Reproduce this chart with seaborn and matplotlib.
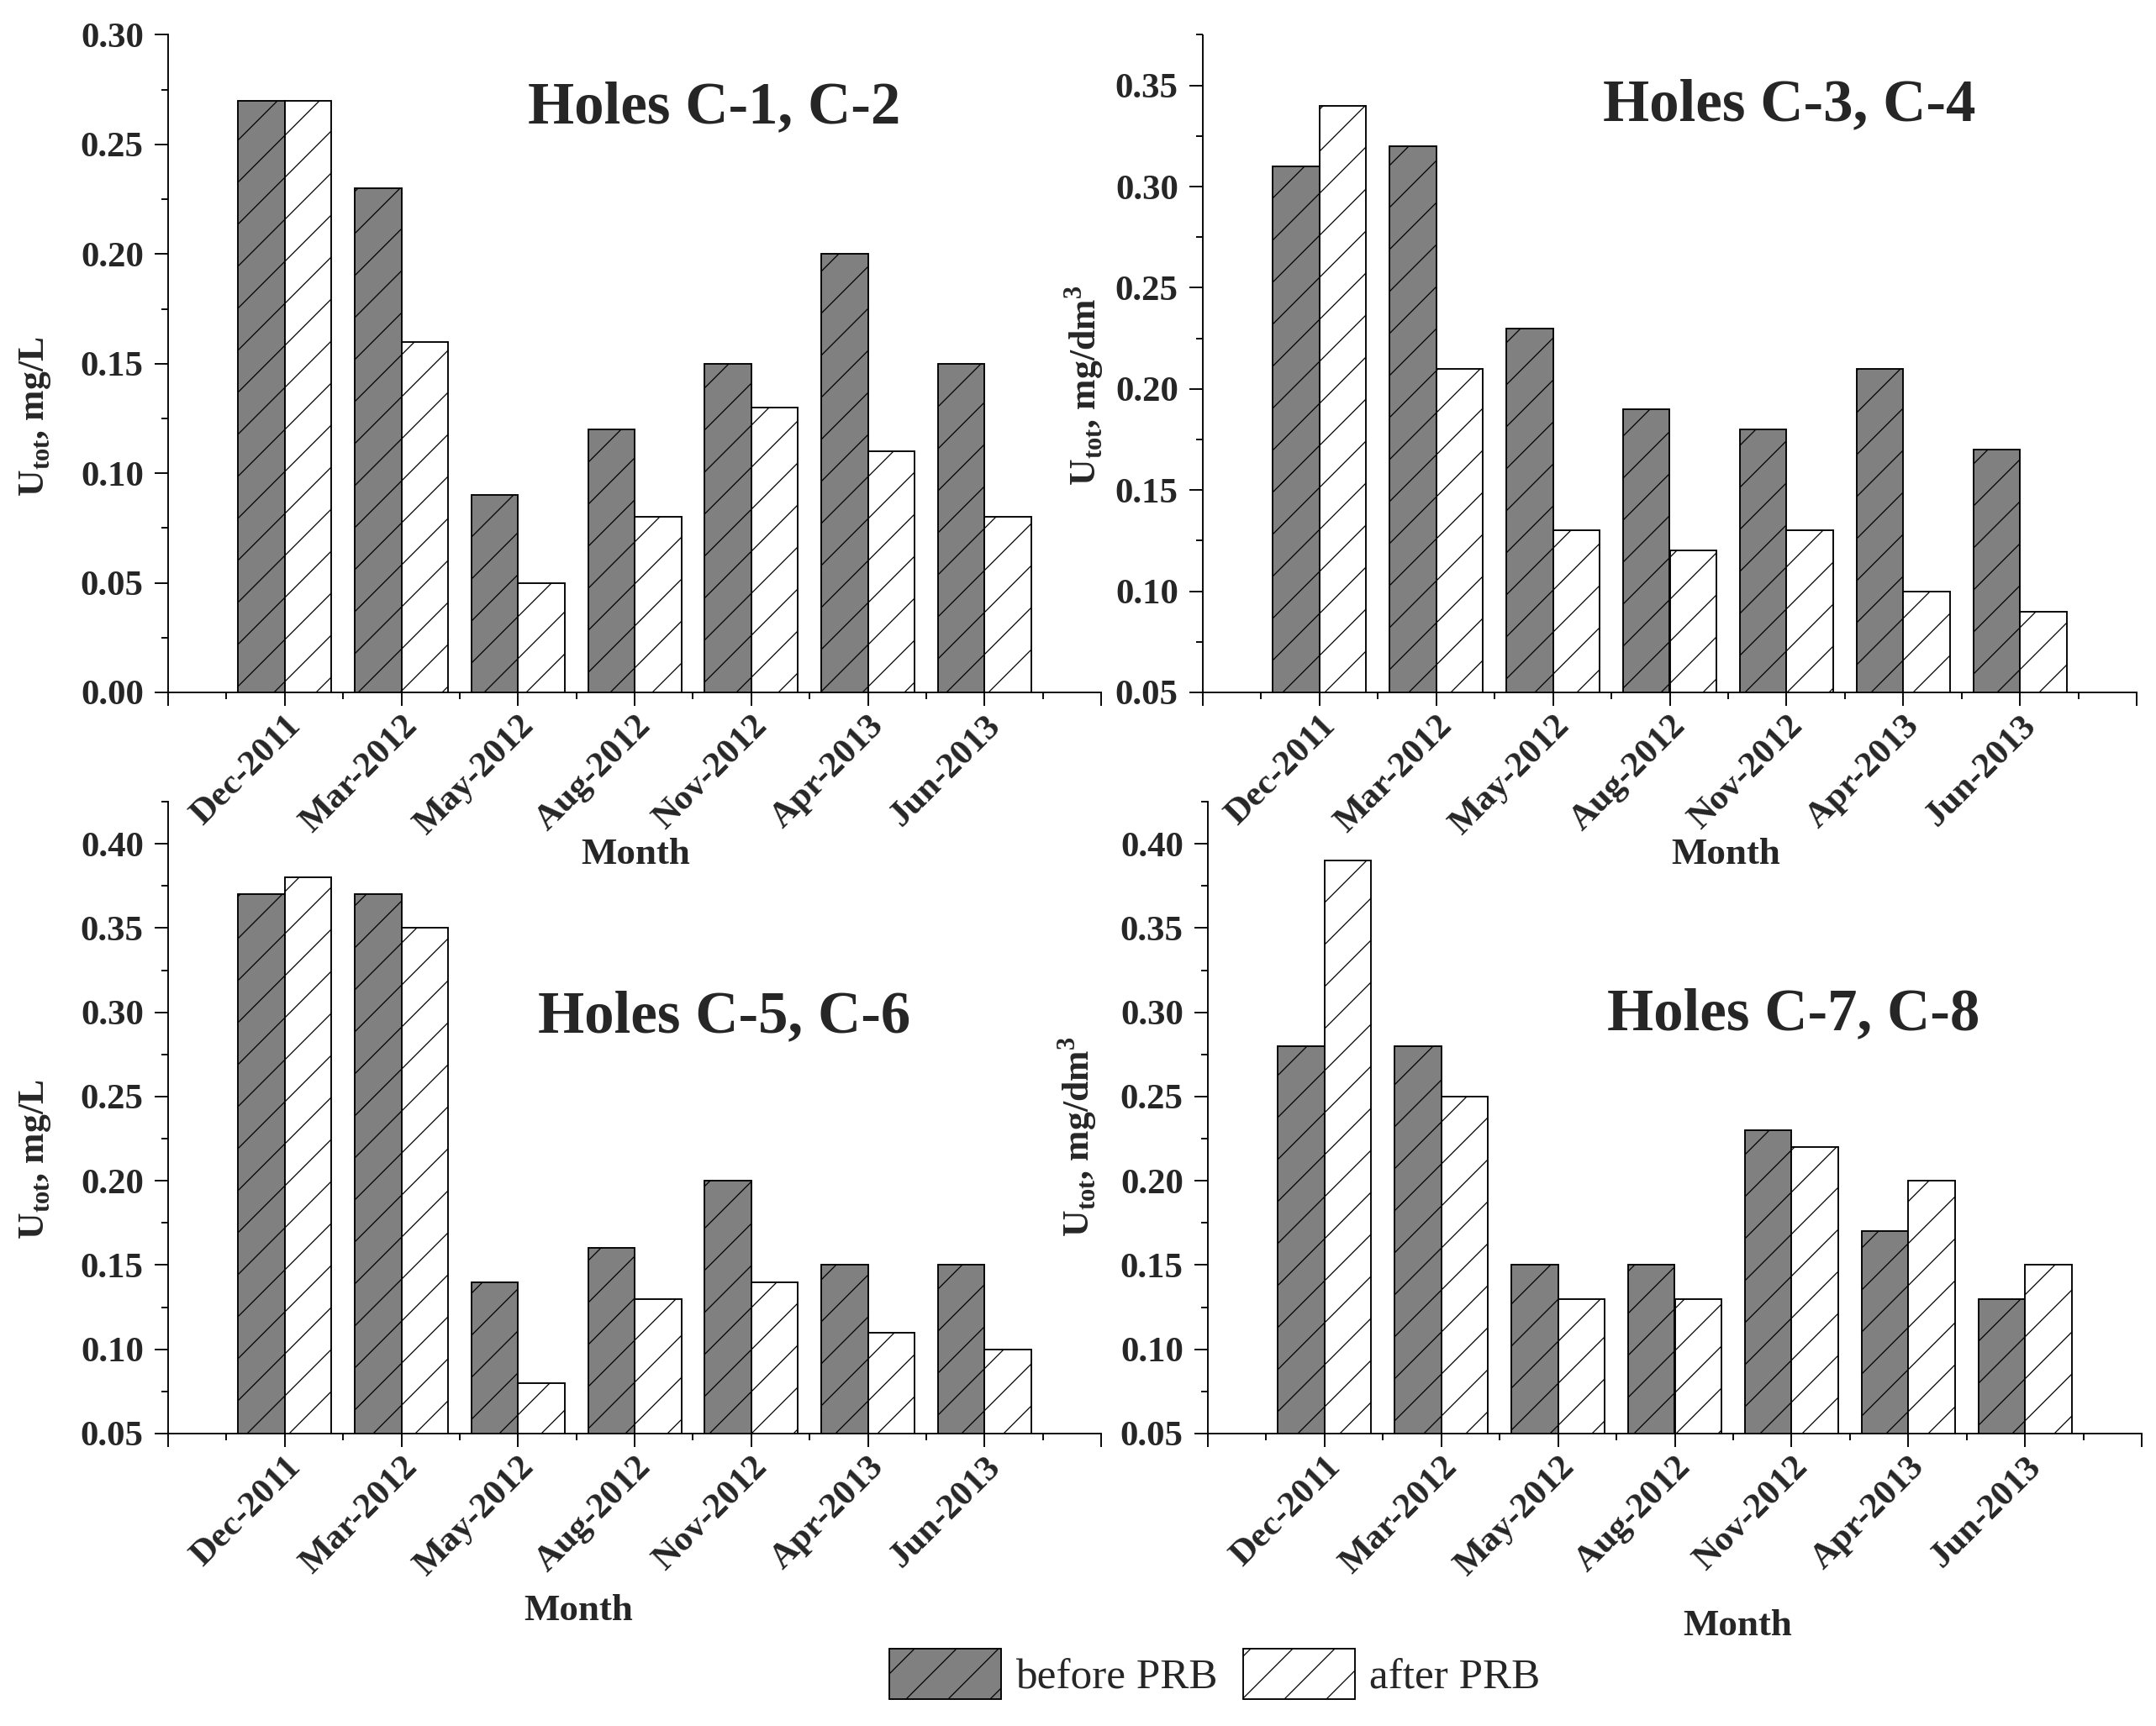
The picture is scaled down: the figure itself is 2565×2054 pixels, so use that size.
import pandas as pd
import matplotlib
matplotlib.use('Agg')
import matplotlib.pyplot as plt
import matplotlib.patches as mpatches
from matplotlib.ticker import MultipleLocator, FormatStrFormatter
import seaborn as sns

months = ['Dec-2011', 'Mar-2012', 'May-2012', 'Aug-2012', 'Nov-2012', 'Apr-2013', 'Jun-2013']
periods = ['before PRB', 'after PRB']

# U_tot per hole pair, before / after the barrier
c12_before = [0.27, 0.23, 0.09, 0.12, 0.15, 0.20, 0.15]
c12_after = [0.27, 0.16, 0.05, 0.08, 0.13, 0.11, 0.08]
c34_before = [0.31, 0.32, 0.23, 0.19, 0.18, 0.21, 0.17]
c34_after = [0.34, 0.21, 0.13, 0.12, 0.13, 0.10, 0.09]
c56_before = [0.37, 0.37, 0.14, 0.16, 0.20, 0.15, 0.15]
c56_after = [0.38, 0.35, 0.08, 0.13, 0.14, 0.11, 0.10]
c78_before = [0.28, 0.28, 0.15, 0.15, 0.23, 0.17, 0.13]
c78_after = [0.39, 0.25, 0.13, 0.13, 0.22, 0.20, 0.15]

titles = ['Holes C-1, C-2', 'Holes C-3, C-4', 'Holes C-5, C-6', 'Holes C-7, C-8']
ylabels = [r'U$_{\mathbf{tot}}$, mg/L', r'U$_{\mathbf{tot}}$, mg/dm$^{\mathbf{3}}$',
           r'U$_{\mathbf{tot}}$, mg/L', r'U$_{\mathbf{tot}}$, mg/dm$^{\mathbf{3}}$']
ylims = [(0.0, 0.30), (0.05, 0.375), (0.05, 0.425), (0.05, 0.425)]

GREY = '#808080'
W, H = 2565, 2054
DPI = 300

sns.set_style('ticks')
plt.rcParams['font.family'] = ['Liberation Serif', 'DejaVu Serif']
plt.rcParams['mathtext.fontset'] = 'custom'
plt.rcParams['mathtext.rm'] = 'Liberation Serif'
plt.rcParams['mathtext.bf'] = 'Liberation Serif:bold'
plt.rcParams['hatch.linewidth'] = 0.3
plt.rcParams['hatch.color'] = 'black'


def make_df(before, after):
    rows = []
    for m, b, a in zip(months, before, after):
        rows.append({'Month': m, 'Period': periods[0], 'U': b})
        rows.append({'Month': m, 'Period': periods[1], 'U': a})
    return pd.DataFrame(rows)


panels = [make_df(c12_before, c12_after), make_df(c34_before, c34_after),
          make_df(c56_before, c56_after), make_df(c78_before, c78_after)]

# axes boxes in pixels: left, top, right, bottom
boxes = [(200, 41.5, 1310, 824), (1431, 41.5, 2542, 824),
         (200, 954, 1310, 1706), (1437, 954, 2548, 1706)]
title_pos = [(850, 129), (2129, 126), (862, 1211), (2134, 1208)]
month_pos = [(756, 1017), (2053, 1017), (688, 1917), (2067, 1935)]
ylabel_pos = [(42, 496), (1290, 459), (42, 1380), (1282, 1353)]

fig = plt.figure(figsize=(W / DPI, H / DPI), dpi=DPI)

for i, df in enumerate(panels):
    l, t, r, b = boxes[i]
    ax = fig.add_axes([l / W, 1 - b / H, (r - l) / W, (b - t) / H])
    ax.set_facecolor('none')
    sns.barplot(data=df, x='Month', y='U', hue='Period', order=months, hue_order=periods,
                palette=[GREY, 'white'], edgecolor='black', linewidth=0.45,
                saturation=1, errorbar=None, legend=False, width=0.8, ax=ax)
    for bar in ax.patches:
        bar.set_hatch('//')

    ax.set_xlim(-1, 7)
    ax.set_ylim(*ylims[i])
    ax.set_xticks(range(-1, 8))
    ax.set_xticklabels([''] + months + [''], rotation=45, ha='right',
                       rotation_mode='anchor', fontsize=10.3, fontweight='bold')
    ax.set_xticks([x + 0.5 for x in range(-1, 7)], minor=True)
    ax.yaxis.set_major_locator(MultipleLocator(0.05))
    ax.yaxis.set_minor_locator(MultipleLocator(0.025))
    ax.yaxis.set_major_formatter(FormatStrFormatter('%.2f'))
    for lab in ax.get_yticklabels():
        lab.set_fontsize(10.3)
        lab.set_fontweight('bold')
    ax.tick_params(which='major', direction='out', length=3.8, width=0.45, color='black')
    ax.tick_params(axis='y', which='major', pad=3.2)
    ax.tick_params(axis='x', which='major', pad=1.2)
    ax.tick_params(which='minor', direction='out', length=1.9, width=0.45, color='black')
    for s in ['top', 'right']:
        ax.spines[s].set_visible(False)
    for s in ['left', 'bottom']:
        ax.spines[s].set_linewidth(0.45)
        ax.spines[s].set_color('black')
    ax.set_xlabel('')
    ax.set_ylabel('')

    fig.text(title_pos[i][0] / W, 1 - title_pos[i][1] / H, titles[i], fontsize=17,
             fontweight='bold', ha='center', va='center')
    fig.text(month_pos[i][0] / W, 1 - month_pos[i][1] / H, 'Month', fontsize=10.8,
             fontweight='bold', ha='center', va='center')
    fig.text(ylabel_pos[i][0] / W, 1 - ylabel_pos[i][1] / H, ylabels[i], fontsize=10.5,
             fontweight='bold', rotation=90, ha='center', va='center')

handles = [mpatches.Patch(facecolor=GREY, edgecolor='black', hatch='//', linewidth=0.45),
           mpatches.Patch(facecolor='white', edgecolor='black', hatch='//', linewidth=0.45)]
fig.legend(handles, periods, loc='center', bbox_to_anchor=(1445 / W, 1 - 1992 / H),
           ncol=2, frameon=False, fontsize=12.3, handlelength=2.6, handleheight=1.42,
           handletextpad=0.32, columnspacing=0.6, borderpad=0)

fig.savefig('out.png', dpi=DPI)
